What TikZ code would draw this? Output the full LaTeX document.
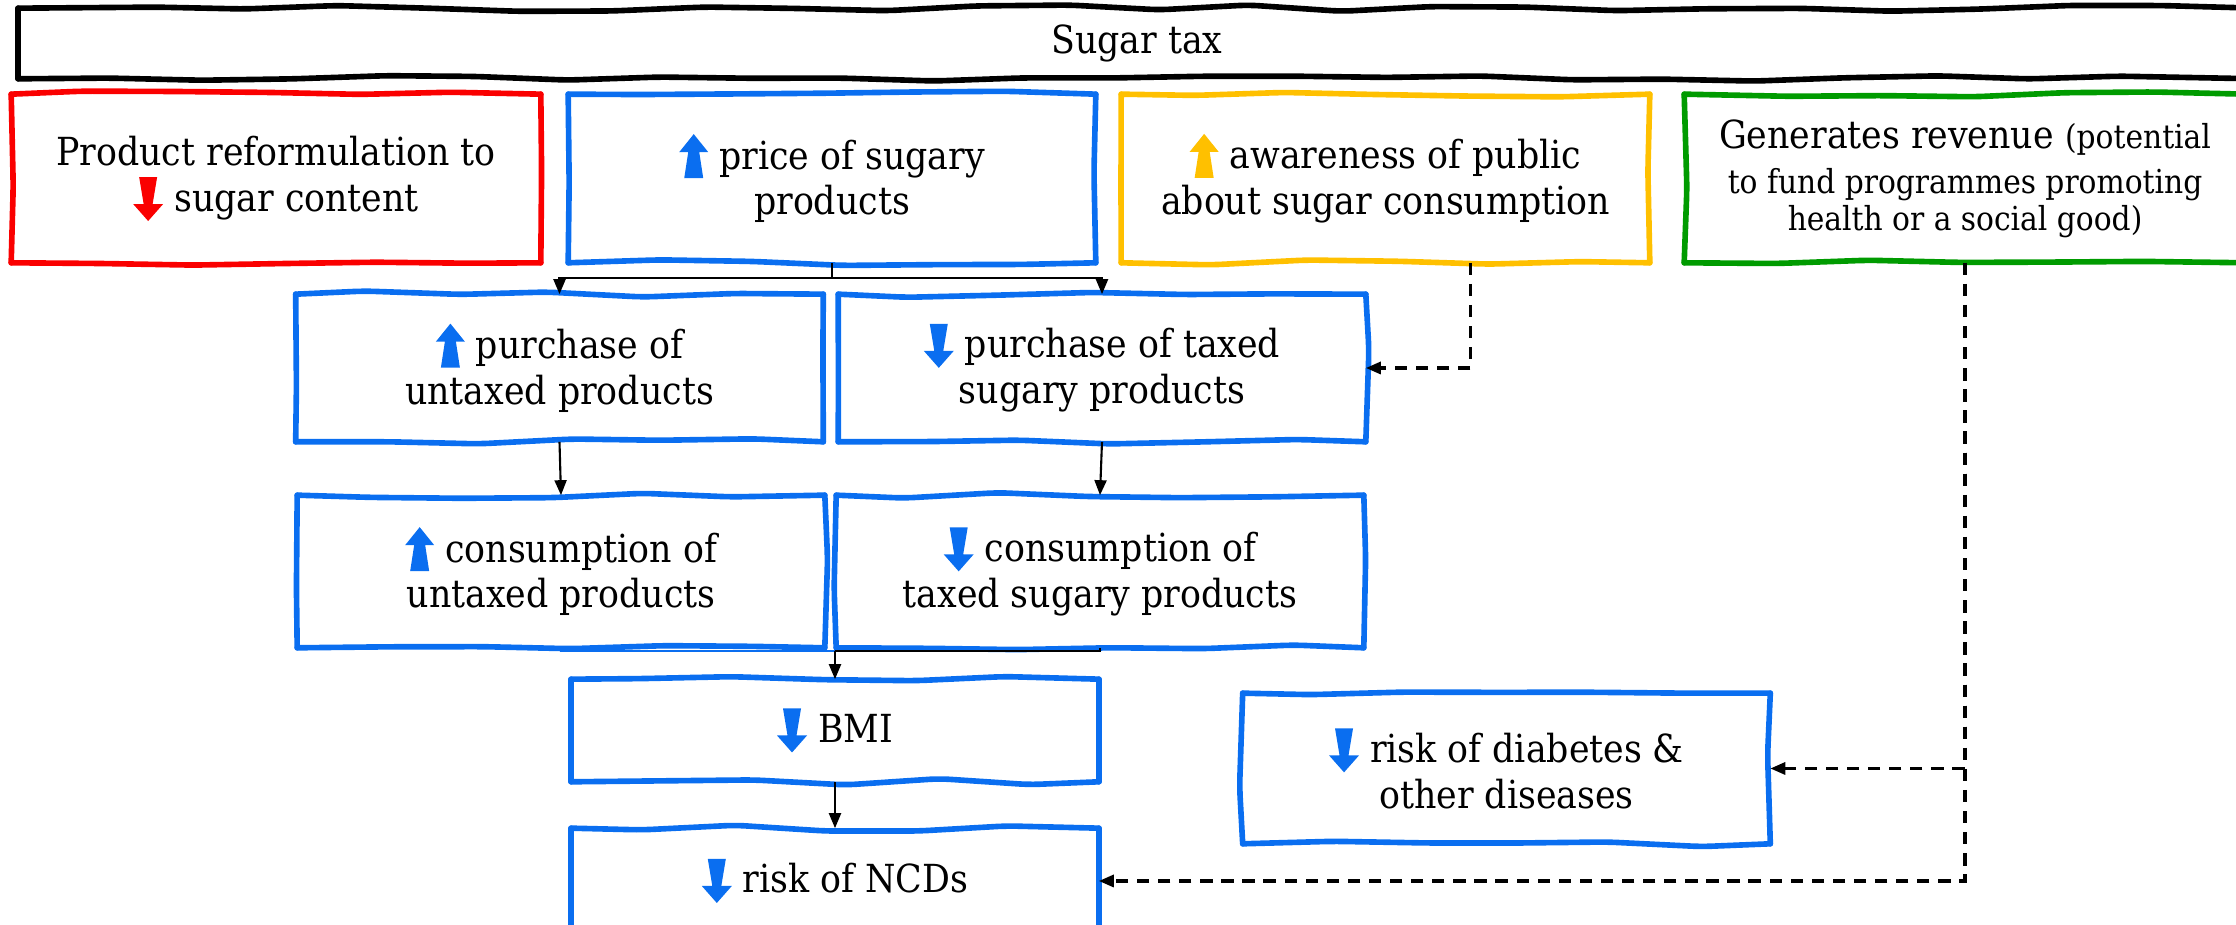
\documentclass[tikz,border=0pt]{standalone}
\usepackage{fontspec}
\setmainfont{DejaVu Serif Condensed}
\usetikzlibrary{arrows.meta,positioning,calc,decorations.pathmorphing}
\definecolor{cblue}{RGB}{10,110,240}
\definecolor{cred}{RGB}{250,0,0}
\definecolor{cyel}{RGB}{255,192,0}
\definecolor{cgreen}{RGB}{0,155,0}
\tikzset{
  box/.style={align=center,font=\fontsize{11}{13}\selectfont,inner sep=2pt,outer sep=0.8pt},
  bbox/.style={box,minimum width=5.22cm},
  frame/.style={draw=#1,line width=1.6pt,line cap=round,decorate,decoration={random steps,segment length=26pt,amplitude=0.9pt},rounded corners=3pt},
  arr/.style={-{Triangle[length=1.5mm,width=1.2mm]},line width=0.6pt},
  darr/.style={arr,line width=0.9pt,dash pattern=on 3.5pt off 2.5pt}
}
\newcommand{\uparr}[1]{\tikz[baseline=0pt]\fill[#1] (-0.095,-0.09) -- (-0.055,0.17) -- (-0.145,0.17) -- (0,0.35) -- (0.145,0.17) -- (0.055,0.17) -- (0.095,-0.09) -- cycle;}
\newcommand{\dnarr}[1]{\tikz[baseline=0pt]\fill[#1] (-0.09,0.34) -- (-0.045,0.07) -- (-0.15,0.07) -- (0,-0.1) -- (0.15,0.07) -- (0.045,0.07) -- (0.09,0.34) -- cycle;}
\newcommand{\smalltxt}{\fontsize{9.4}{10}\selectfont}

\begin{document}
\begin{tikzpicture}
\pgfmathsetseed{7}
\useasboundingbox (0,0) rectangle (22.36,-9.25);
\node[box,minimum width=22.32cm,minimum height=0.65cm] (tax) at (11.37,-0.435) {Sugar tax};
\node[box,minimum width=5.24cm,minimum height=1.63cm] (reform) at (2.76,-1.785) {Product reformulation to\\\dnarr{cred} sugar content};
\node[bbox,minimum height=1.63cm] (price) at (8.32,-1.785) {\uparr{cblue} price of sugary\\products};
\node[box,minimum width=5.23cm,minimum height=1.63cm] (aware) at (13.855,-1.785) {\uparr{cyel} awareness of public\\about sugar consumption};
\node[box,minimum width=5.56cm,minimum height=1.63cm] (revenue) at (19.65,-1.785) {Generates revenue {\smalltxt(potential}\\[0pt]{\smalltxt to fund programmes promoting}\\[-2.7pt]{\smalltxt health or a social good)}};
\node[bbox,minimum height=1.42cm] (upurch) at (5.595,-3.68) {\uparr{cblue} purchase of\\untaxed products};
\node[bbox,minimum height=1.42cm] (tpurch) at (11.02,-3.68) {\dnarr{cblue} purchase of taxed\\sugary products};
\node[bbox,minimum height=1.47cm] (ucons) at (5.61,-5.715) {\uparr{cblue} consumption of\\untaxed products};
\node[bbox,minimum height=1.47cm] (tcons) at (11.0,-5.715) {\dnarr{cblue} consumption of\\taxed sugary products};
\node[bbox,minimum height=0.97cm] (bmi) at (8.35,-7.305) {\dnarr{cblue} BMI};
\node[bbox,minimum height=1.0cm] (ncd) at (8.35,-8.81) {\dnarr{cblue} risk of NCDs};
\node[bbox,minimum height=1.45cm] (diab) at (15.065,-7.685) {\dnarr{cblue} risk of diabetes \&\\other diseases};
% hand drawn frames, one side at a time
\foreach \n/\c in {tax/black,reform/cred,price/cblue,aware/cyel,revenue/cgreen,upurch/cblue,tpurch/cblue,ucons/cblue,tcons/cblue,bmi/cblue,ncd/cblue,diab/cblue}{
  \draw[frame=\c] (\n.south west) -- (\n.south east);
  \draw[frame=\c] (\n.south east) -- (\n.north east);
  \draw[frame=\c] (\n.north east) -- (\n.north west);
  \draw[frame=\c] (\n.north west) -- (\n.south west);
}
% price splits into the two purchase boxes
\coordinate (fork) at ($(price.south)+(0,-0.15)$);
\draw[line width=0.6pt] (price.south) -- (fork);
\draw[arr] (fork) -| (upurch.north);
\draw[arr] (fork) -| (tpurch.north);
\draw[arr] (upurch.south) -- (ucons.north);
\draw[arr] (tpurch.south) -- (tcons.north);
% both consumption boxes lead to BMI
\coordinate (join) at ($(bmi.north)+(0,0.28)$);
\draw[cblue,line width=0.6pt] (ucons.south) |- (join);
\draw[line width=0.6pt] (tcons.south) |- (join);
\draw[arr] (join) -- (bmi.north);
\draw[arr] (bmi.south) -- (ncd.north);
% dashed influences
\draw[darr] ([xshift=0.85cm]aware.south) |- (tpurch.east);
\draw[darr] (revenue.south) |- (diab.east);
\draw[darr] (revenue.south) |- (ncd.east);
\end{tikzpicture}
\end{document}
